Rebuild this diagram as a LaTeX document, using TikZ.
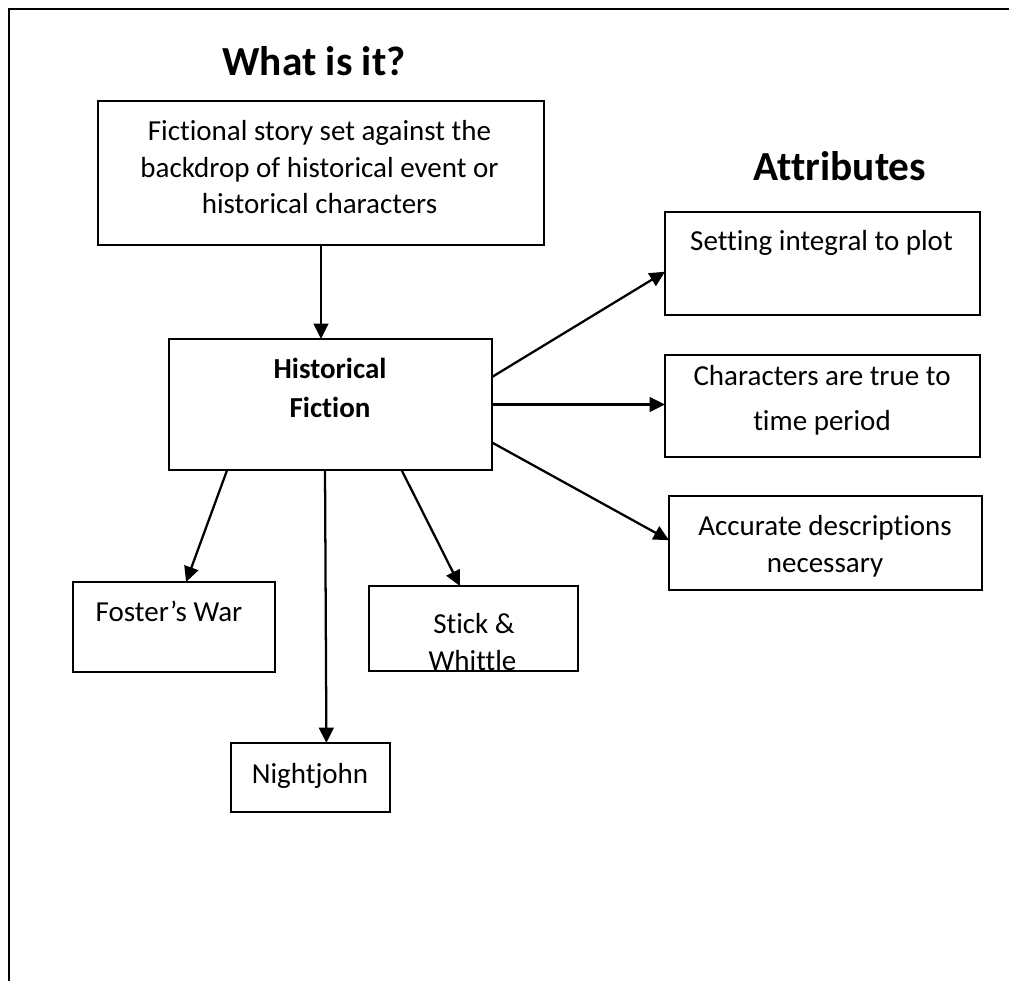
\documentclass[tikz,border=0pt]{standalone}
\usepackage{fontspec}
\setmainfont{Carlito}[Ligatures=NoCommon]
\usetikzlibrary{arrows.meta,calc}
\begin{document}
\begin{tikzpicture}[x=0.75pt,y=-0.75pt,
  box/.style 2 args={draw, line width=1.3pt, inner sep=0pt, outer sep=0pt, minimum width=#1*0.75pt, minimum height=#2*0.75pt},
  txt/.style={anchor=base, inner sep=0pt, font=\fontsize{21.75}{26}\selectfont},
  btxt/.style={anchor=base, inner sep=0pt, font=\fontsize{21.75}{26}\selectfont\bfseries},
  head/.style={anchor=base, inner sep=0pt, font=\fontsize{31}{37}\selectfont\bfseries},
  conn/.style={line width=1.7pt, -{Triangle[length=11.5pt,width=11pt]}}
]
\useasboundingbox (0,0) rectangle (1009,981);
% outer frame
\draw[line width=1.5pt] (9,981) -- (9,9) -- (1009,9);

% headings
\node[head] (title) at (314,75) {What is it?};
\node[head] (attr) at (840,180) {Attributes};

% texts
\node[txt] (t1) at (319.5,140) {Fictional story set against the};
\node[txt] (t2) at (319.5,177) {backdrop of historical event or};
\node[txt] (t3) at (319.5,213) {historical characters};
\node[btxt] (h1) at (330,378) {Historical};
\node[btxt] (h2) at (330,417) {Fiction};
\node[txt] (s1) at (821.5,250) {Setting integral to plot};
\node[txt] (c1) at (822,385) {Characters are true to};
\node[txt] (c2) at (822,430) {time period};
\node[txt] (a1) at (825,535) {Accurate descriptions};
\node[txt] (a2) at (825,572) {necessary};
\node[txt] (f1) at (169,621) {Foster’s War};
\node[txt] (k1) at (474,633) {Stick \&};
\node[txt] (k2) at (472.5,670) {Whittle};
\node[txt] (n1) at (310,783) {Nightjohn};

% boxes
\node[box={446}{144}] (top) at (321,173) {};
\node[box={323}{131}] (hf) at (330.5,404.5) {};
\node[box={315}{103}] (set) at (822.5,263.5) {};
\node[box={315}{102}] (chr) at (822.5,406) {};
\node[box={313}{94}] (acc) at (825.5,543) {};
\node[box={202}{90}] (fos) at (174,627) {};
\node[box={209}{85}] (stk) at (473.5,628.5) {};
\node[box={159}{69}] (nj) at (310.5,777.5) {};

% connectors
\draw[conn] (top.south) -- (top.south |- hf.north);
\draw[conn] ($(hf.north east)!0.29!(hf.south east)$) -- ($(set.north west)!0.58!(set.south west)$);
\draw[conn] (hf.east) -- (hf.east -| chr.west);
\draw[conn] ($(hf.north east)!0.79!(hf.south east)$) -- ($(acc.north west)!0.47!(acc.south west)$);
\draw[conn] ($(hf.south west)!0.18!(hf.south east)$) -- ($(fos.north west)!0.56!(fos.north east)$);
\draw[conn] ($(hf.south west)!0.483!(hf.south east)$) -- ($(nj.north west)!0.60!(nj.north east)$);
\draw[conn] ($(hf.south west)!0.72!(hf.south east)$) -- ($(stk.north west)!0.435!(stk.north east)$);
\end{tikzpicture}
\end{document}
